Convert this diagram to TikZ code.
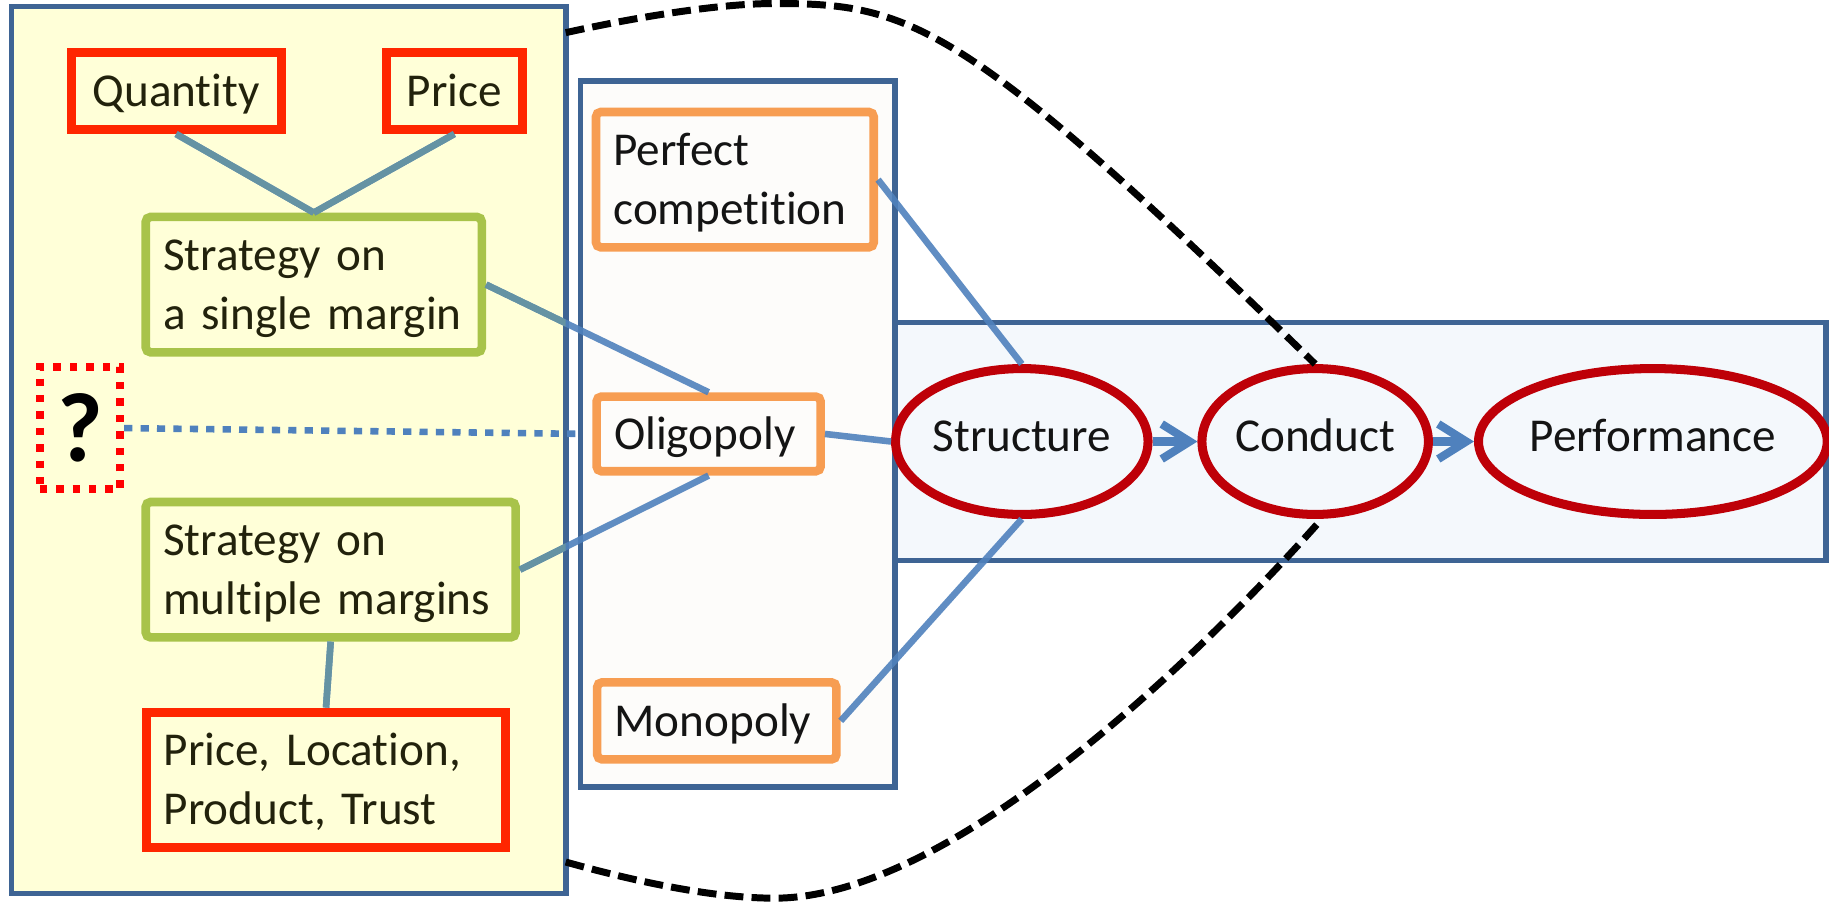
\documentclass[tikz,border=0pt]{standalone}
\usepackage{fontspec}
\setmainfont[Ligatures=NoCommon]{Carlito}
\usetikzlibrary{shapes.geometric,arrows.meta}

\definecolor{panelblue}{HTML}{3E6494}
\definecolor{leftfill}{HTML}{FFFFD8}
\definecolor{midfill}{HTML}{FDFCFA}
\definecolor{rightfill}{HTML}{F4F8FC}
\definecolor{boxred}{HTML}{FF2600}
\definecolor{boxgreen}{HTML}{A8C34A}
\definecolor{boxorange}{HTML}{F79D52}
\definecolor{ovalred}{HTML}{BE0008}
\definecolor{linkblue}{HTML}{4F81BD}
\definecolor{linkteal}{HTML}{6593A3}
\definecolor{lefttext}{HTML}{22220C}
\definecolor{darktext}{HTML}{141414}

% struts that give every text line the same ascent and descent
\newcommand\boxstrut{\rule[-2.6pt]{0pt}{12.6pt}}
\newcommand\ovalstrut{\rule[-3.2pt]{0pt}{11.2pt}}

\begin{document}
\begin{tikzpicture}[x=0.01cm, y=-0.01cm,
  every node/.style={font=\fontsize{11.5pt}{14.3pt}\selectfont},
  panel/.style={draw=panelblue, line width=1.35pt, inner sep=0pt},
  sized/.style 2 args={minimum width=#1, minimum height=#2},
  leftbox/.style={fill=leftfill, text=lefttext, inner ysep=0pt, inner xsep=0.15cm, align=left},
  redbox/.style={leftbox, draw=boxred, line width=2.2pt},
  greenbox/.style={leftbox, draw=boxgreen, line width=2.1pt, rounded corners=1.2pt},
  orangebox/.style={draw=boxorange, line width=2.1pt, rounded corners=1.2pt, fill=midfill,
    text=darktext, inner ysep=0pt, inner xsep=0.15cm, align=left},
  oval/.style={ellipse, draw=ovalred, line width=2.2pt, fill=rightfill, text=darktext, inner sep=0pt},
  link/.style={draw=linkblue, line width=1.6pt, draw opacity=0.9},
  leftlink/.style={draw=linkteal, line width=1.6pt},
  flow/.style={draw=linkblue, line width=2pt, -{Straight Barb[length=0.24cm, width=0.30cm]}},
  arc/.style={draw=black, line width=1.7pt, dash pattern=on 4.6pt off 2pt},
  unknown/.style={draw=red, line width=1.9pt, dash pattern=on 1.8pt off 2.2pt, fill=leftfill,
    inner sep=0pt, font=\fontsize{24pt}{27pt}\selectfont\bfseries}
]
\useasboundingbox (0,0) rectangle (1568,775);

% three panels
\node[panel, fill=leftfill, sized={4.75cm}{7.60cm}] (leftpanel) at (247.5,385.7) {};
\node[panel, fill=midfill, sized={2.698cm}{6.05cm}] (midpanel) at (632.5,371.9) {};
\node[panel, fill=rightfill, sized={7.976cm}{2.04cm}] (rightpanel) at (1166.2,378.6) {};

% strategy panel
\node[redbox, align=center, inner xsep=0pt, sized={1.80cm}{0.66cm}] (quantity) at (151,78)
  {\boxstrut Quantity};
\node[redbox, align=center, inner xsep=0pt, sized={1.17cm}{0.66cm}] (price) at (389.5,78)
  {\boxstrut Price};
\node[greenbox, sized={2.88cm}{1.16cm}, text width=2.58cm] (single) at (269,244)
  {\boxstrut Strategy on\\a single margin\boxstrut};
\node[unknown, sized={0.69cm}{1.05cm}] (unknown) at (68.6,367) {?};
\node[greenbox, sized={3.17cm}{1.16cm}, text width=2.87cm] (multiple) at (283.5,488.4)
  {\boxstrut Strategy on\\multiple margins\boxstrut};
\node[redbox, sized={3.08cm}{1.16cm}, text width=2.78cm] (margins) at (279.5,668.5)
  {\boxstrut Price, Location,\\Product, Trust\boxstrut};

% market structures
\node[orangebox, sized={2.38cm}{1.16cm}, text width=2.08cm] (perfect) at (630,154)
  {\boxstrut Perfect\\competition\boxstrut};
\node[orangebox, sized={1.92cm}{0.64cm}, text width=1.62cm] (oligopoly) at (607.5,372)
  {\boxstrut Oligopoly};
\node[orangebox, sized={2.05cm}{0.66cm}, text width=1.75cm] (monopoly) at (614.5,618)
  {\boxstrut Monopoly};

% structure - conduct - performance
\node[oval, sized={1.90cm}{1.25cm}] (structure) at (876,378.5) {\ovalstrut Structure};
\node[oval, sized={1.75cm}{1.25cm}] (conduct) at (1127.5,378.5) {\ovalstrut Conduct};
\node[oval, sized={2.66cm}{1.25cm}] (performance) at (1417,378.5) {\ovalstrut Performance};

\draw[flow] (structure.east) -- (conduct.west);
\draw[flow] (conduct.east) -- (performance.west);

% links between the levels
\draw[link] (quantity.south) -- (single.north);
\draw[link] (price.south) -- (single.north);
\draw[link] (single.east) -- (oligopoly.north);
\draw[link] (multiple.east) -- (oligopoly.south);
\draw[link] (multiple.south) -- (margins.north);
\draw[link] (perfect.east) -- (structure.north);
\draw[link] (oligopoly.east) -- (structure.west);
\draw[link] (monopoly.east) -- (structure.south);
\draw[draw=linkblue, line width=1.6pt, dash pattern=on 2pt off 2pt] (unknown.east) -- (midpanel.west);

% the same links take a teal tint over the yellow panel
\begin{scope}
  \clip (10,5.7) rectangle (485,765.7);
  \draw[leftlink] (quantity.south) -- (single.north);
  \draw[leftlink] (price.south) -- (single.north);
  \draw[leftlink] (single.east) -- (oligopoly.north);
  \draw[leftlink] (multiple.east) -- (oligopoly.south);
  \draw[leftlink] (multiple.south) -- (margins.north);
\end{scope}

% dashed bracket from the strategy panel to conduct
\coordinate (arcA) at (485,28);
\coordinate (arcB) at (485,739);
\draw[arc] (arcA) .. controls (530,18) and (610,3) .. (664,3)
  .. controls (780,3) and (825,17) .. (conduct.north);
\draw[arc] (arcB) .. controls (560,760) and (620,770) .. (664,770)
  .. controls (820,770) and (1040,550) .. (conduct.-85);
\end{tikzpicture}
\end{document}
